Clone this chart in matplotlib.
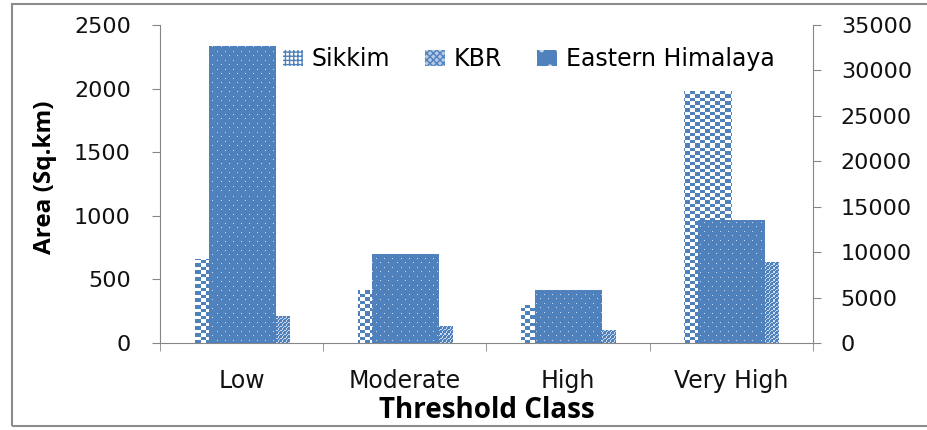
import numpy as np
from matplotlib import pyplot as plt
from matplotlib.patches import Patch, Rectangle

categories = ['Low', 'Moderate', 'High', 'Very High']
sikkim = [658, 417, 301, 1984]
kbr = [212, 134, 102, 637]
eastern_himalaya = [32690, 9800, 5840, 13570]

left_ticks = [0, 500, 1000, 1500, 2000, 2500]
right_ticks = [0, 5000, 10000, 15000, 20000, 25000, 30000, 35000]

BLUE = np.array([79, 129, 189]) / 255.0
WHITE = np.ones(3)
GRID = '#868686'

W_PX, H_PX = 653, 318   # axes size in pixels


def make_pattern(kind):
    yy, xx = np.mgrid[0:H_PX, 0:W_PX]
    img = np.empty((H_PX, W_PX, 3))
    if kind == 'checker':
        m = ((xx // 5) % 2).astype(bool) ^ (yy % 7 >= 4)
        img[:] = WHITE
        img[m] = BLUE
    elif kind == 'dither':
        tile = np.array([[1, 0, 1, 1],
                         [0, 1, 1, 0],
                         [1, 1, 0, 1],
                         [1, 0, 1, 1]], dtype=bool)
        m = tile[yy % 4, xx % 4]
        img[:] = np.array([0.80, 0.86, 0.94])
        img[m] = BLUE
    else:
        img[:] = BLUE
        dots = ((xx % 8 == 0) & (yy % 9 == 0)) | ((xx % 8 == 4) & (yy % 9 == 4))
        img[dots] = np.array([0.80, 0.86, 0.94])
    return img


def fill_bars(axis, bars, img):
    for b in bars:
        im = axis.imshow(img, extent=(0, 1, 0, 1), transform=axis.transAxes,
                         aspect='auto', interpolation='nearest', zorder=2)
        im.set_clip_path(b)


fig = plt.figure(figsize=(9.28, 4.3), dpi=100)
ax = fig.add_axes([160/928, 87/430, W_PX/928, H_PX/430])
ax2 = ax.twinx()

x = np.arange(len(categories))
w = 0.288
b1 = ax.bar(x - w/2, sikkim, w, facecolor='none', linewidth=0)
b2 = ax.bar(x + w/2, kbr, w, facecolor='none', linewidth=0)
b3 = ax2.bar(x, eastern_himalaya, 0.405, facecolor='none', linewidth=0)

fill_bars(ax, b1, make_pattern('checker'))
fill_bars(ax, b2, make_pattern('dither'))
fill_bars(ax2, b3, make_pattern('dots'))

ax.set_xlim(-0.5, 3.5)
ax.set_ylim(0, 2500)
ax2.set_ylim(0, 35000)
ax.set_yticks(left_ticks)
ax2.set_yticks(right_ticks)
ax.set_xticks(x, categories)
ax.set_xticks([-0.5, 0.5, 1.5, 2.5, 3.5], minor=True)

for s in ['top', 'right']:
    ax.spines[s].set_visible(False)
for s in ['top', 'left', 'bottom']:
    ax2.spines[s].set_visible(False)
ax.spines['left'].set_color(GRID)
ax.spines['bottom'].set_color(GRID)
ax2.spines['right'].set_color(GRID)

ax.tick_params(axis='y', length=6, color=GRID, labelsize=16, pad=15, labelcolor='#111111')
ax2.tick_params(axis='y', length=6, color=GRID, labelsize=16, pad=14, labelcolor='#111111')
ax.tick_params(axis='x', which='major', length=0, labelsize=17, pad=19, labelcolor='#111111')
ax.tick_params(axis='x', which='minor', length=6, color=GRID)

ax.set_ylabel('Area (Sq.km)', fontsize=17.5, fontweight='bold', family='Open Sans')
ax.yaxis.set_label_coords(-0.158, 0.52)
ax.set_xlabel('Threshold Class', fontsize=20, fontweight='bold', family='Open Sans', va='top')
ax.xaxis.set_label_coords(0.5, -0.168)

handles = [Patch(facecolor='white', edgecolor=BLUE, hatch='++++', linewidth=0),
           Patch(facecolor='#b7c9e6', edgecolor=BLUE, hatch='xxxxx', linewidth=0),
           Patch(facecolor=BLUE, edgecolor='#c8d6ec', hatch='.', linewidth=0)]
fig.legend(handles, ['Sikkim', 'KBR', 'Eastern Himalaya'], loc='center left',
           bbox_to_anchor=(283/928, 1 - 59/430), ncol=3, frameon=False, fontsize=17,
           handlelength=0.85, handleheight=0.65, handletextpad=0.35, columnspacing=1.5,
           borderpad=0, borderaxespad=0)

fig.patches.append(Rectangle((12/928, 4/430), 2, 422/430, transform=fig.transFigure,
                             fill=False, edgecolor='#8c8c8c', linewidth=1.5))

fig.savefig('out.png', dpi=100)
